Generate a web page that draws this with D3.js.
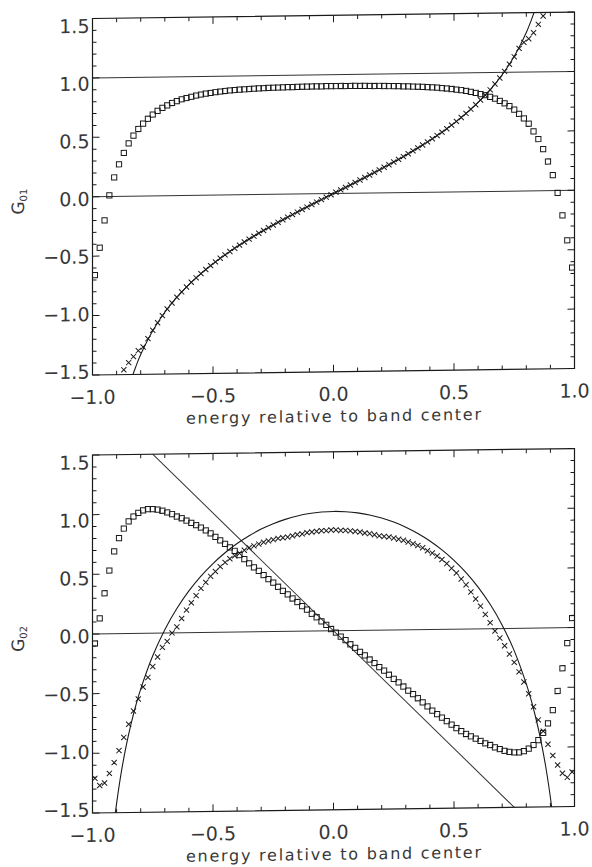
<!DOCTYPE html>
<html>
<head>
<meta charset="utf-8">
<script src="https://cdn.jsdelivr.net/npm/d3@7"></script>
<style>
  html, body { margin: 0; padding: 0; background: #fff; }
</style>
</head>
<body>
<div id="chart"></div>
<script>
// two panels, G01 and G02 against energy relative to band center

// energy grid of the marker series
const energy = [
  -0.99, -0.97, -0.95, -0.93, -0.91, -0.89, -0.87, -0.85, -0.83, -0.81,
  -0.79, -0.77, -0.75, -0.73, -0.71, -0.69, -0.67, -0.65, -0.63, -0.61,
  -0.59, -0.57, -0.55, -0.53, -0.51, -0.49, -0.47, -0.45, -0.43, -0.41,
  -0.39, -0.37, -0.35, -0.33, -0.31, -0.29, -0.27, -0.25, -0.23, -0.21,
  -0.19, -0.17, -0.15, -0.13, -0.11, -0.09, -0.07, -0.05, -0.03, -0.01,
   0.01,  0.03,  0.05,  0.07,  0.09,  0.11,  0.13,  0.15,  0.17,  0.19,
   0.21,  0.23,  0.25,  0.27,  0.29,  0.31,  0.33,  0.35,  0.37,  0.39,
   0.41,  0.43,  0.45,  0.47,  0.49,  0.51,  0.53,  0.55,  0.57,  0.59,
   0.61,  0.63,  0.65,  0.67,  0.69,  0.71,  0.73,  0.75,  0.77,  0.79,
   0.81,  0.83,  0.85,  0.87,  0.89,  0.91,  0.93,  0.95,  0.97,  0.99
];

// G01 squares
const g01Squares = [
  -0.66, -0.43, -0.20, 0.01, 0.16, 0.27, 0.365, 0.445, 0.51, 0.565,
  0.61, 0.65, 0.685, 0.715, 0.74, 0.76, 0.78, 0.795, 0.81, 0.82,
  0.83, 0.84, 0.848, 0.855, 0.86, 0.866, 0.871, 0.875, 0.879, 0.882,
  0.885, 0.887, 0.889, 0.891, 0.893, 0.894, 0.896, 0.897, 0.898, 0.899,
  0.90, 0.90, 0.901, 0.902, 0.902, 0.903, 0.903, 0.903, 0.904, 0.904,
  0.904, 0.904, 0.903, 0.903, 0.903, 0.902, 0.902, 0.901, 0.90, 0.90,
  0.899, 0.898, 0.897, 0.896, 0.894, 0.893, 0.891, 0.889, 0.887, 0.885,
  0.882, 0.879, 0.875, 0.871, 0.866, 0.86, 0.855, 0.848, 0.84, 0.83,
  0.82, 0.81, 0.795, 0.78, 0.76, 0.74, 0.715, 0.685, 0.65, 0.61,
  0.565, 0.50, 0.435, 0.35, 0.245, 0.13, -0.02, -0.21, -0.42, -0.65
];

// G01 crosses (null = off the plot)
const g01Crosses = [
  null, null, null, null, null, null, -1.46, -1.40, -1.35, -1.30,
  -1.27, -1.20, -1.13, -1.068, -1.008, -0.953, -0.903, -0.855, -0.811, -0.77,
  -0.731, -0.694, -0.659, -0.625, -0.593, -0.562, -0.532, -0.504, -0.476, -0.45,
  -0.424, -0.398, -0.374, -0.35, -0.326, -0.303, -0.28, -0.258, -0.236, -0.215,
  -0.194, -0.173, -0.152, -0.131, -0.111, -0.09, -0.07, -0.05, -0.03, -0.01,
  0.01, 0.03, 0.05, 0.07, 0.09, 0.111, 0.131, 0.152, 0.173, 0.194,
  0.215, 0.236, 0.258, 0.28, 0.303, 0.326, 0.35, 0.374, 0.398, 0.424,
  0.45, 0.476, 0.504, 0.532, 0.562, 0.593, 0.625, 0.659, 0.694, 0.731,
  0.77, 0.811, 0.855, 0.903, 0.953, 1.008, 1.068, 1.13, 1.20, 1.25,
  1.28, 1.33, 1.40, 1.47, null, null, null, null, null, null
];

// G02 squares
const g02Squares = [
  -0.08, 0.13, 0.34, 0.53, 0.69, 0.80, 0.88, 0.94, 0.98, 1.01,
  1.03, 1.04, 1.04, 1.035, 1.025, 1.01, 0.995, 0.975, 0.96, 0.94,
  0.92, 0.90, 0.88, 0.855, 0.83, 0.80, 0.77, 0.74, 0.71, 0.68,
  0.645, 0.61, 0.575, 0.54, 0.51, 0.475, 0.44, 0.41, 0.375, 0.34,
  0.31, 0.275, 0.245, 0.21, 0.18, 0.145, 0.115, 0.08, 0.05, 0.015,
  -0.015, -0.05, -0.08, -0.115, -0.145, -0.18, -0.21, -0.245, -0.275, -0.31,
  -0.34, -0.375, -0.41, -0.44, -0.475, -0.51, -0.54, -0.575, -0.61, -0.645,
  -0.68, -0.71, -0.74, -0.77, -0.80, -0.83, -0.855, -0.88, -0.90, -0.92,
  -0.94, -0.96, -0.975, -0.995, -1.01, -1.025, -1.035, -1.04, -1.04, -1.03,
  -1.01, -0.98, -0.94, -0.88, -0.80, -0.69, -0.53, -0.34, -0.13, 0.08
];

// G02 crosses
const g02Crosses = [
  -1.21, -1.27, -1.25, -1.17, -1.08, -0.98, -0.87, -0.76, -0.65, -0.55,
  -0.45, -0.37, -0.28, -0.20, -0.12, -0.07, 0.0, 0.05, 0.12, 0.19,
  0.25, 0.31, 0.37, 0.42, 0.47, 0.51, 0.55, 0.585, 0.615, 0.64,
  0.66, 0.685, 0.705, 0.72, 0.735, 0.75, 0.76, 0.77, 0.78, 0.785,
  0.79, 0.80, 0.81, 0.815, 0.825, 0.83, 0.835, 0.84, 0.84, 0.845,
  0.845, 0.84, 0.84, 0.835, 0.83, 0.825, 0.815, 0.81, 0.80, 0.79,
  0.785, 0.78, 0.77, 0.76, 0.75, 0.735, 0.72, 0.705, 0.685, 0.66,
  0.64, 0.615, 0.585, 0.55, 0.51, 0.47, 0.42, 0.37, 0.31, 0.25,
  0.19, 0.12, 0.05, -0.02, -0.08, -0.145, -0.215, -0.285, -0.365, -0.45,
  -0.55, -0.66, -0.77, -0.865, -0.975, -1.07, -1.15, -1.22, -1.255, -1.21
];

// solid curve, top panel
const curve01E = [-0.87, -0.86, -0.85, -0.84, -0.82, -0.80, -0.75, -0.70, -0.65, -0.60,
  -0.55, -0.50, -0.45, -0.40, -0.35, -0.30, -0.25, -0.20, -0.15, -0.10, -0.05, 0,
  0.05, 0.10, 0.15, 0.20, 0.25, 0.30, 0.35, 0.40, 0.45, 0.50, 0.55, 0.60, 0.65,
  0.70, 0.75, 0.80, 0.82, 0.84, 0.85, 0.86];
const curve01V = [-1.764, -1.685, -1.614, -1.548, -1.433, -1.333, -1.134, -0.980, -0.855, -0.750,
  -0.659, -0.577, -0.504, -0.436, -0.374, -0.314, -0.258, -0.204, -0.152, -0.1005, -0.050, 0,
  0.050, 0.1005, 0.152, 0.204, 0.258, 0.314, 0.374, 0.436, 0.504, 0.577, 0.659, 0.750, 0.855,
  0.980, 1.134, 1.333, 1.433, 1.548, 1.614, 1.685];

// solid curve, bottom panel
const curve02E = [-0.92, -0.91, -0.90, -0.88, -0.86, -0.84, -0.82, -0.80, -0.75, -0.70, -0.65,
  -0.60, -0.55, -0.50, -0.45, -0.40, -0.35, -0.30, -0.25, -0.20, -0.15, -0.10, -0.05, 0,
  0.05, 0.10, 0.15, 0.20, 0.25, 0.30, 0.35, 0.40, 0.45, 0.50, 0.55, 0.60, 0.65, 0.70,
  0.75, 0.80, 0.82, 0.84, 0.86, 0.88, 0.90, 0.91, 0.92];
const curve02V = [-1.77, -1.583, -1.422, -1.155, -0.939, -0.758, -0.602, -0.467, -0.189, 0.028, 0.204,
  0.350, 0.473, 0.577, 0.666, 0.742, 0.806, 0.860, 0.904, 0.939, 0.966, 0.985, 0.996, 1.0,
  0.996, 0.985, 0.966, 0.939, 0.904, 0.860, 0.806, 0.742, 0.666, 0.577, 0.473, 0.350, 0.204, 0.028,
  -0.189, -0.467, -0.602, -0.758, -0.939, -1.155, -1.422, -1.583, -1.77];

// straight reference lines
const lines01 = [
  { e: [-1, 1], v: [1.0, 1.0] },
  { e: [-1, 1], v: [0.0, 0.0] }
];
const lines02 = [
  { e: [-1, 1], v: [0.0, 0.0] },
  { e: [-0.77, 0.77], v: [1.54, -1.54] }
];

// axes
const xMajor = [-1, -0.5, 0, 0.5, 1];
const xLabels = ["\u22121.0", "\u22120.5", "0.0", "0.5", "1.0"];
const yMajor = [-1.5, -1.0, -0.5, 0, 0.5, 1.0, 1.5];
const yLabels = ["\u22121.5", "\u22121.0", "\u22120.5", "0.0", "0.5", "1.0", "1.5"];
const xTitle = "energy relative to band center";

const W = 592, H = 867;
const LEFT = 92.5, RIGHT = 574.5;
const INK = "#1a1a1a";
const TEXT = "#383838";

const svg = d3.select("#chart").append("svg")
  .attr("width", W)
  .attr("height", H)
  .style("display", "block");

svg.append("rect").attr("width", W).attr("height", H).attr("fill", "#fff");

// the scanned page is a little skewed
const root = svg.append("g")
  .attr("transform", `translate(${LEFT},0) skewY(-0.77) translate(${-LEFT},0)`);

const x = d3.scaleLinear().domain([-1, 1]).range([LEFT, RIGHT]);

function drawPanel(p) {
  const y = d3.scaleLinear().domain([-1.5, 1.5]).range([p.bottom, p.top]);
  const g = root.append("g");

  g.append("clipPath").attr("id", p.id + "-clip")
    .append("rect")
    .attr("x", LEFT).attr("y", p.top)
    .attr("width", RIGHT - LEFT).attr("height", p.bottom - p.top);

  const plot = g.append("g").attr("clip-path", `url(#${p.id}-clip)`);

  // straight lines
  p.lines.forEach(l => {
    plot.append("path")
      .attr("d", d3.line()(l.e.map((e, i) => [x(e), y(l.v[i])])))
      .attr("fill", "none")
      .attr("stroke", "#333")
      .attr("stroke-width", 1);
  });

  // solid curve
  plot.append("path")
    .attr("d", d3.line().curve(d3.curveCatmullRom)(p.curveE.map((e, i) => [x(e), y(p.curveV[i])])))
    .attr("fill", "none")
    .attr("stroke", INK)
    .attr("stroke-width", 1.1);

  // squares
  const sq = energy.map((e, i) => [e, p.squares[i]]).filter(d => d[1] !== null);
  plot.selectAll(".sq")
    .data(sq)
    .enter()
    .append("rect")
    .attr("x", d => x(d[0]) - 2.6)
    .attr("y", d => y(d[1]) - 2.6)
    .attr("width", 5.2)
    .attr("height", 5.2)
    .attr("fill", "none")
    .attr("stroke", INK)
    .attr("stroke-width", 1);

  // crosses
  const cr = energy.map((e, i) => [e, p.crosses[i]]).filter(d => d[1] !== null);
  plot.selectAll(".cr")
    .data(cr)
    .enter()
    .append("path")
    .attr("transform", d => `translate(${x(d[0])},${y(d[1])})`)
    .attr("d", "M-2.6,-2.6L2.6,2.6M-2.6,2.6L2.6,-2.6")
    .attr("fill", "none")
    .attr("stroke", INK)
    .attr("stroke-width", 1);

  // frame
  g.append("rect")
    .attr("x", LEFT).attr("y", p.top)
    .attr("width", RIGHT - LEFT).attr("height", p.bottom - p.top)
    .attr("fill", "none")
    .attr("stroke", INK)
    .attr("stroke-width", 1.2);

  // ticks, inward on all four sides
  const ticks = g.append("g").attr("stroke", INK).attr("stroke-width", 1);
  const isMajor = (v, list) => list.some(m => Math.abs(m - v) < 1e-6);

  x.ticks(20).forEach(t => {
    const len = isMajor(t, xMajor) ? 7 : 4;
    ticks.append("line").attr("x1", x(t)).attr("x2", x(t))
      .attr("y1", p.bottom).attr("y2", p.bottom - len);
    ticks.append("line").attr("x1", x(t)).attr("x2", x(t))
      .attr("y1", p.top).attr("y2", p.top + len);
  });
  y.ticks(30).forEach(t => {
    const len = isMajor(t, yMajor) ? 7 : 4;
    ticks.append("line").attr("y1", y(t)).attr("y2", y(t))
      .attr("x1", LEFT).attr("x2", LEFT + len);
    ticks.append("line").attr("y1", y(t)).attr("y2", y(t))
      .attr("x1", RIGHT).attr("x2", RIGHT - len);
  });

  // tick labels
  const font = "'DejaVu Sans', sans-serif";
  g.selectAll(".xl")
    .data(xMajor)
    .enter()
    .append("text")
    .attr("x", d => x(d))
    .attr("y", p.bottom + 22)
    .attr("dominant-baseline", "central")
    .attr("text-anchor", "middle")
    .attr("font-family", font)
    .attr("font-size", "19px")
    .attr("fill", TEXT)
    .text((d, i) => xLabels[i]);

  // y labels sit slightly inside the end ticks, as in the print
  const y0 = y(0);
  g.selectAll(".yl")
    .data(yMajor)
    .enter()
    .append("text")
    .attr("x", LEFT - 3)
    .attr("y", d => y0 + (y(d) - y0) * 0.97 + 2)
    .attr("dominant-baseline", "central")
    .attr("text-anchor", "end")
    .attr("font-family", font)
    .attr("font-size", "19px")
    .attr("fill", TEXT)
    .text((d, i) => yLabels[i]);

  // x title
  g.append("text")
    .attr("x", x(0))
    .attr("y", p.bottom + 50)
    .attr("text-anchor", "middle")
    .attr("font-family", font)
    .attr("font-size", "16px")
    .attr("fill", TEXT)
    .attr("textLength", 295)
    .attr("lengthAdjust", "spacing")
    .text(xTitle);

  // y title, G with subscript
  const yt = g.append("text")
    .attr("transform", `translate(24,${y0 + 4}) rotate(-90)`)
    .attr("text-anchor", "middle")
    .attr("font-family", font)
    .attr("font-size", "17px")
    .attr("fill", TEXT);
  yt.append("tspan").text("G");
  yt.append("tspan")
    .attr("font-size", "10px")
    .attr("dy", 3)
    .text(p.sub);
}

drawPanel({
  id: "p01", top: 18.5, bottom: 375,
  squares: g01Squares, crosses: g01Crosses,
  curveE: curve01E, curveV: curve01V,
  lines: lines01, sub: "01"
});

drawPanel({
  id: "p02", top: 455, bottom: 813,
  squares: g02Squares, crosses: g02Crosses,
  curveE: curve02E, curveV: curve02V,
  lines: lines02, sub: "02"
});
</script>
</body>
</html>
